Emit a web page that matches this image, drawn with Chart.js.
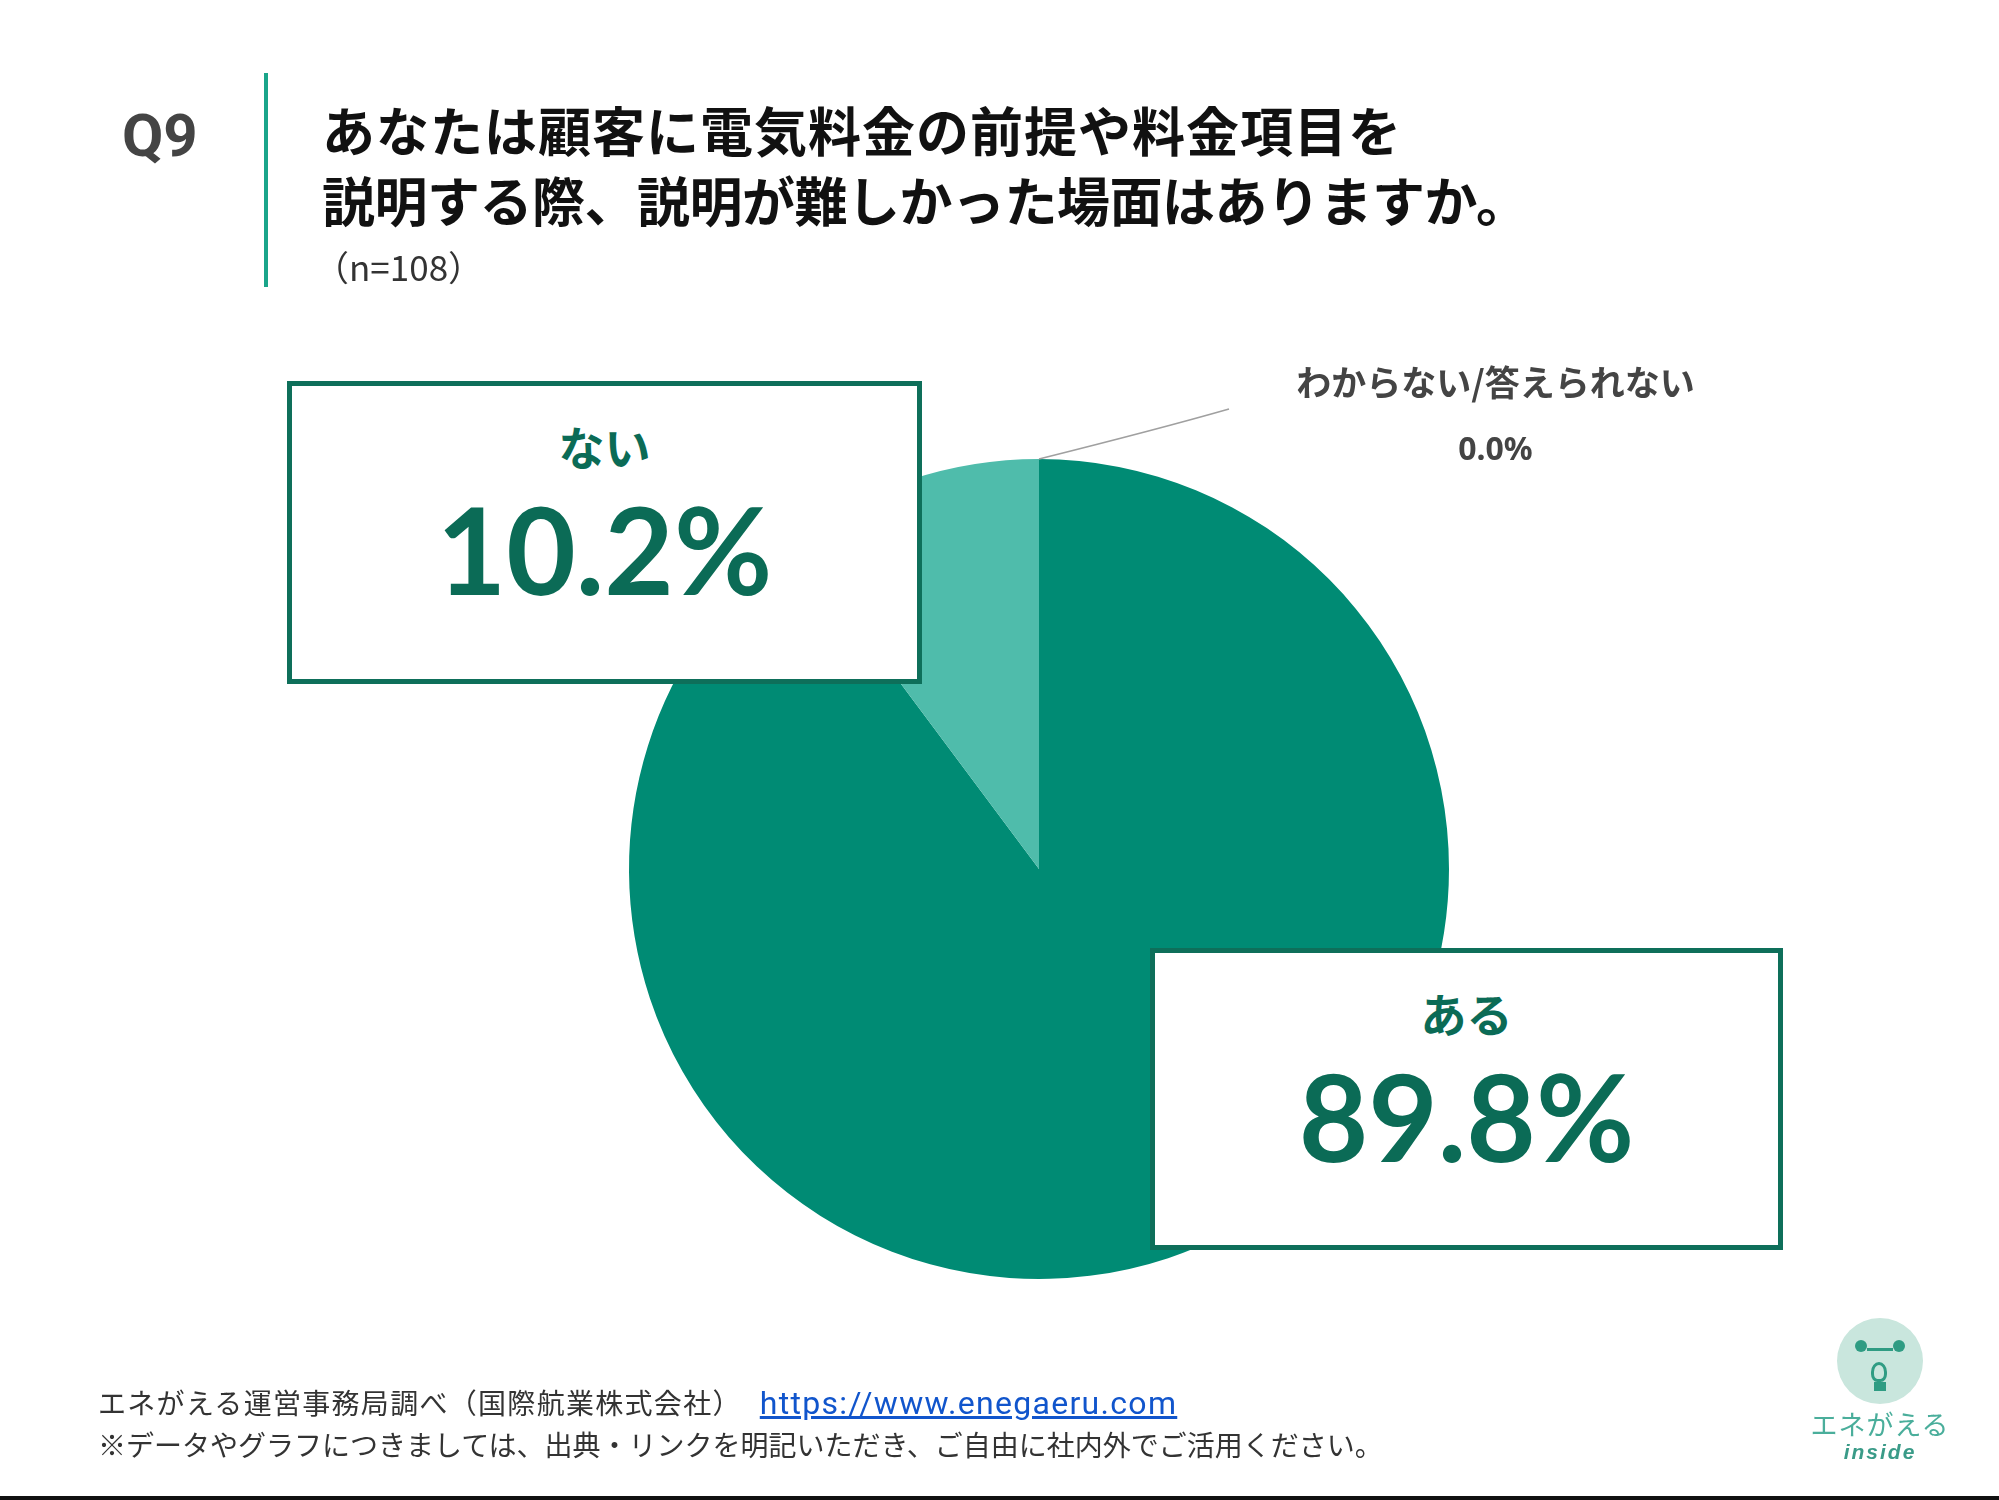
<!DOCTYPE html>
<html>
<head>
<meta charset="utf-8">
<script src="https://cdn.jsdelivr.net/npm/chart.js@4.4.1/dist/chart.umd.min.js"></script>
<style>
  html, body { margin: 0; padding: 0; background: #fff; }
  body { width: 1999px; height: 1500px; position: relative; overflow: hidden; font-family: "Noto Sans CJK JP", sans-serif; }
  #chartWrap { position: absolute; left: 0; top: 0; width: 1999px; height: 1500px; }
  .q { position: absolute; left: 122px; top: 100px; font-family: Roboto, "Liberation Sans", sans-serif; font-weight: 700; font-size: 60px; color: #444; }
  .vline { position: absolute; left: 264px; top: 73px; width: 4px; height: 214px; background: #1aa58a; }
  .title { position: absolute; left: 322px; top: 94px; font-weight: 700; font-size: 53px; line-height: 70px; color: #111; }
  .title .l1 { letter-spacing: 1px; }
  .title .l2 { letter-spacing: -0.5px; }
  .n { position: absolute; left: 314px; top: 240px; font-size: 35px; color: #333; }
  .box { position: absolute; background: #fff; border: 5px solid #0e6f5a; box-sizing: border-box; text-align: center; color: #0b6b56; z-index: 2; }
  .box .lab { font-weight: 700; font-size: 46px; line-height: 50px; margin-top: 34px; }
  .box .pct { font-family: Lato, sans-serif; font-weight: 700; font-size: 120px; line-height: 130px; margin-top: 14px; }
  .other { position: absolute; left: 1285px; top: 355px; width: 421px; text-align: center; font-weight: 700; font-size: 35px; color: #444; z-index: 2; }
  .other .p { font-family: "Noto Sans", sans-serif; font-size: 32px; margin-top: 20px; }
  .foot { position: absolute; left: 98px; font-size: 28px; color: #333; }
  .foot a { font-family: Roboto, sans-serif; font-size: 32px; color: #1155cc; text-decoration: underline; margin-left: 18px; }
  .logo { position: absolute; left: 1810px; top: 1318px; width: 140px; text-align: center; color: #4aae9b; }
  .logo .face { width: 86px; height: 86px; border-radius: 50%; background: #c9e6dd; margin: 0 auto; position: relative; }
  .logo .face:before, .logo .face:after { content: ""; position: absolute; top: 22px; width: 12px; height: 12px; border-radius: 50%; background: #2f9c83; }
  .logo .face:before { left: 18px; }
  .logo .face:after { right: 18px; }
  .logo .mouth { position: absolute; left: 30px; top: 30px; width: 26px; height: 3px; background: #2f9c83; }
  .logo .bulb { position: absolute; left: 34px; top: 44px; width: 16px; height: 20px; border: 3px solid #2f9c83; border-radius: 50% 50% 40% 40%; box-sizing: border-box; }
  .logo .base { position: absolute; left: 37px; top: 64px; width: 12px; height: 9px; background: #2f9c83; }
  .logo .t1 { font-size: 27px; line-height: 32px; margin-top: 4px; letter-spacing: 1px; }
  .logo .t2 { font-family: "Liberation Sans", sans-serif; font-style: italic; font-weight: 700; font-size: 21px; line-height: 24px; color: #3a9b88; letter-spacing: 2px; }
  .bottomline { position: absolute; left: 0; top: 1496px; width: 1999px; height: 4px; background: #111; }
</style>
</head>
<body>
<div id="chartWrap"><canvas id="pieChart"></canvas></div>

<div class="q">Q9</div>
<div class="vline"></div>
<div class="title"><span class="l1">あなたは顧客に電気料金の前提や料金項目を</span><br><span class="l2">説明する際、説明が難しかった場面はありますか。</span></div>
<div class="n">（n=108）</div>

<div class="box" id="boxNo" style="left:287px; top:381px; width:635px; height:303px;"></div>
<div class="box" id="boxYes" style="left:1150px; top:948px; width:633px; height:302px;"></div>
<div class="other" id="otherLabel"></div>

<div class="foot" style="top:1382px; letter-spacing: 1.3px;">エネがえる運営事務局調べ（国際航業株式会社）<a>https://www.enegaeru.com</a></div>
<div class="foot" style="top:1424px;">※データやグラフにつきましては、出典・リンクを明記いただき、ご自由に社内外でご活用ください。</div>

<div class="logo">
  <div class="face"><div class="mouth"></div><div class="bulb"></div><div class="base"></div></div>
  <div class="t1">エネがえる</div>
  <div class="t2">inside</div>
</div>
<div class="bottomline"></div>

<script>
const answerLabels = ["ある", "ない", "わからない/答えられない"];
const answerValues = [89.8, 10.2, 0.0];
const sliceColors = ["#008b74", "#4fbcab", "#a6dcd3"];

function pct(v) {
  return v.toFixed(1) + "%";
}

// fill the callout boxes from the arrays
document.getElementById("boxYes").innerHTML =
  `<div class="lab">${answerLabels[0]}</div><div class="pct">${pct(answerValues[0])}</div>`;
document.getElementById("boxNo").innerHTML =
  `<div class="lab">${answerLabels[1]}</div><div class="pct">${pct(answerValues[1])}</div>`;
document.getElementById("otherLabel").innerHTML =
  `<div>${answerLabels[2]}</div><div class="p">${pct(answerValues[2])}</div>`;

// thin leader line for the zero slice
const leaderLine = {
  id: "leaderLine",
  afterDatasetsDraw(chart) {
    const arc = chart.getDatasetMeta(0).data[2];
    if (!arc) return;
    const { x, y, outerRadius, startAngle } = arc.getProps(["x", "y", "outerRadius", "startAngle"], true);
    const sx = x + Math.cos(startAngle) * outerRadius;
    const sy = y + Math.sin(startAngle) * outerRadius;
    const ctx = chart.ctx;
    ctx.save();
    ctx.strokeStyle = "#a0a0a0";
    ctx.lineWidth = 1.5;
    ctx.beginPath();
    ctx.moveTo(sx, sy);
    ctx.quadraticCurveTo(sx + 120, sy - 30, sx + 190, sy - 50);
    ctx.stroke();
    ctx.restore();
  },
};

const ctx = document.getElementById("pieChart").getContext("2d");
new Chart(ctx, {
  type: "pie",
  data: {
    labels: answerLabels,
    datasets: [
      {
        data: answerValues,
        backgroundColor: sliceColors,
        borderWidth: 0,
      },
    ],
  },
  options: {
    responsive: true,
    maintainAspectRatio: false,
    animation: false,
    layout: {
      padding: { left: 629, right: 550, top: 459, bottom: 221 },
    },
    plugins: {
      legend: { display: false },
      tooltip: { enabled: false },
    },
  },
  plugins: [leaderLine],
});
</script>
</body>
</html>
